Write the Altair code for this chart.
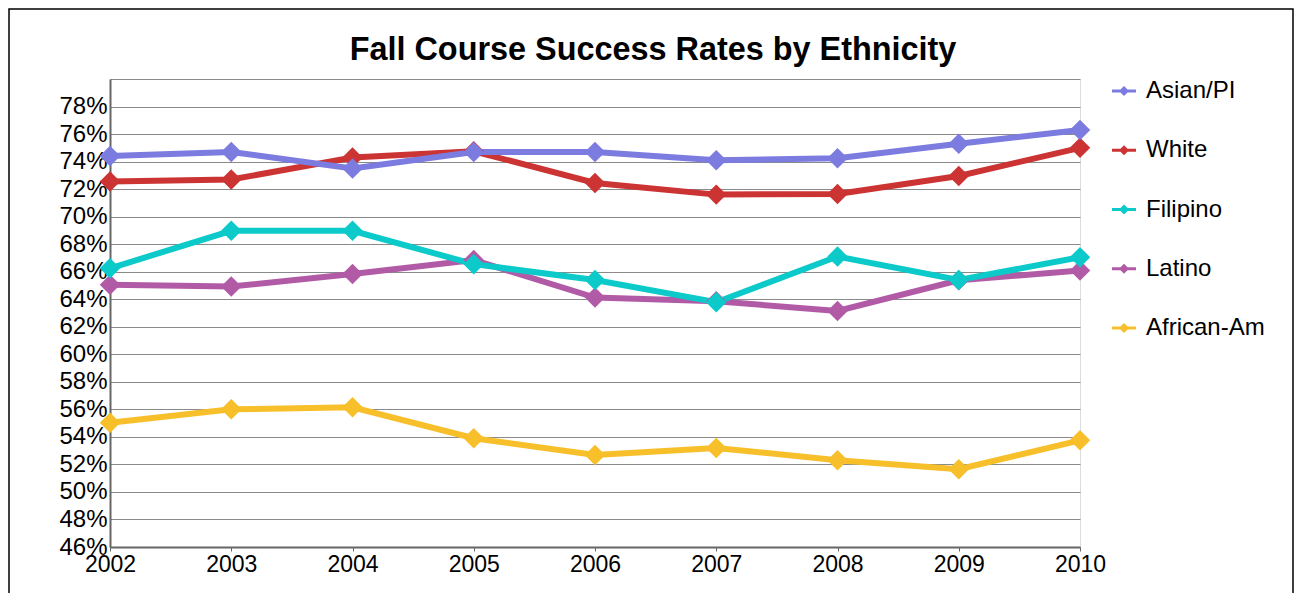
import altair as alt
import pandas as pd

years = ["2002", "2003", "2004", "2005", "2006", "2007", "2008", "2009", "2010"]
series = ["Asian/PI", "White", "Filipino", "Latino", "African-Am"]
colors = ["#7b7be0", "#cc3333", "#0ccaca", "#b15ba7", "#f7bf2a"]

asian = [74.4, 74.7, 73.5, 74.7, 74.7, 74.1, 74.25, 75.3, 76.3]
white = [72.55, 72.7, 74.3, 74.75, 72.45, 71.6, 71.65, 72.95, 75.0]
filipino = [66.25, 68.97, 68.97, 66.55, 65.4, 63.78, 67.1, 65.4, 67.05]
latino = [65.05, 64.92, 65.84, 66.85, 64.12, 63.85, 63.15, 65.38, 66.08]
african = [55.03, 56.0, 56.15, 53.9, 52.68, 53.2, 52.3, 51.65, 53.75]

y_ticks = [46, 48, 50, 52, 54, 56, 58, 60, 62, 64, 66, 68, 70, 72, 74, 76, 78, 80]

values = {"Asian/PI": asian, "White": white, "Filipino": filipino,
          "Latino": latino, "African-Am": african}

rows = []
for s in reversed(series):  # draw African-Am first, Asian/PI last (on top)
    for yr, v in zip(years, values[s]):
        rows.append({"Year": yr, "Ethnicity": s, "Rate": v / 100.0})
df = pd.DataFrame(rows)

FONT = "Liberation Sans"
W, H = 970, 468

x_enc = alt.X("Year:O", sort=years,
              scale=alt.Scale(type="point", padding=0),
              axis=alt.Axis(title=None, labelAngle=0, labelFontSize=23, labelFont=FONT,
                            labelColor="black", tickSize=4, tickColor="#666",
                            labelPadding=2, domainColor="#666", domainWidth=2,
                            grid=False))
y_enc = alt.Y("Rate:Q",
              scale=alt.Scale(domain=[0.46, 0.80], nice=False, zero=False),
              axis=alt.Axis(title=None, values=[t / 100.0 for t in y_ticks],
                            labelExpr="datum.value >= 0.795 ? '' : format(datum.value, '.0%')",
                            labelFontSize=24, labelFont=FONT, labelColor="black",
                            ticks=False, labelPadding=3, domainColor="#666", domainWidth=2,
                            gridColor="#8a8a8a", gridWidth=1, gridOpacity=1,
                            labelFlush=False))
color_scale = alt.Scale(domain=series, range=colors)

legend_symbol = ("M-1,-0.12L1,-0.12L1,0.12L-1,0.12Z "
                 "M0,-0.42L0.42,0L0,0.42L-0.42,0Z")
legend = alt.Legend(title=None, orient="none", legendX=1002, legendY=0,
                    symbolType=legend_symbol, symbolSize=576,
                    symbolStrokeWidth=0, labelFontSize=24,
                    labelFont=FONT, labelColor="black",
                    labelOffset=10, rowPadding=35.25, padding=0)

lines = alt.Chart(df).mark_line(strokeWidth=6, clip=False).encode(
    x=x_enc, y=y_enc,
    color=alt.Color("Ethnicity:N", scale=color_scale, legend=legend),
    detail="Ethnicity:N",
)

points = alt.Chart(df).mark_point(shape="diamond", filled=True, size=420, opacity=1,
                                  clip=False).encode(
    x=x_enc, y=y_enc,
    color=alt.Color("Ethnicity:N", scale=color_scale, legend=legend),
)

frame = alt.Chart(pd.DataFrame({"k": [0]})).mark_rect(
    fill="transparent", stroke="black", strokeWidth=1.5, clip=False
).encode(
    x=alt.value(-101), x2=alt.value(W + 213),
    y=alt.value(-70), y2=alt.value(H + 80),
)

chart = alt.layer(frame, lines, points).properties(
    width=W, height=H,
    title=alt.TitleParams("Fall Course Success Rates by Ethnicity", fontSize=32.4,
                          font=FONT, fontWeight="bold", color="black",
                          anchor="middle", frame="bounds", baseline="alphabetic",
                          offset=-84, dx=2),
    autosize=alt.AutoSizeParams(type="none"),
    padding={"left": 102, "top": 71, "right": 214, "bottom": 46},
).configure_view(stroke="#8a8a8a", strokeWidth=1).configure(background="white")

chart.save("out.html", embed_options={"renderer": "svg", "actions": False})
